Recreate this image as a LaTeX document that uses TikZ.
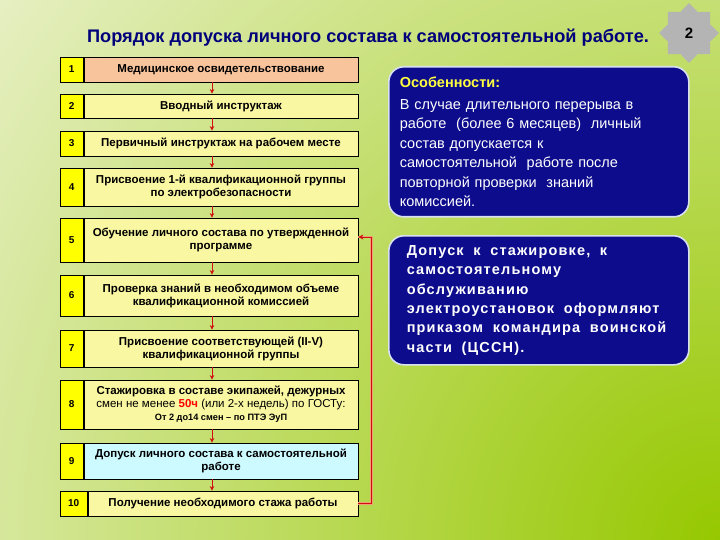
\documentclass[tikz,border=0pt]{standalone}
\usepackage{fontspec}
\setmainfont{Liberation Sans}
\usetikzlibrary{shapes.geometric,arrows.meta,calc}
\definecolor{bgLight}{HTML}{E6EFC2}
\definecolor{bgGreen}{HTML}{96C800}
\definecolor{titleBlue}{HTML}{00007A}
\definecolor{stepFill}{HTML}{FAF7A2}
\definecolor{peach}{HTML}{F8C49C}
\definecolor{cyanFill}{HTML}{CCFAFF}
\definecolor{numYellow}{HTML}{FFFF00}
\definecolor{arrowRed}{HTML}{D01010}
\definecolor{glow}{HTML}{F0A070}
\definecolor{navyBox}{HTML}{0C0C8C}
\definecolor{boxEdge}{HTML}{D8E0F0}
\definecolor{headYellow}{HTML}{FFFF40}
\definecolor{starGray}{HTML}{B4B4B4}
\begin{document}
\begin{tikzpicture}[x=1pt,y=-1pt,
  stepbox/.style={draw=black, line width=0.8pt, fill=stepFill, minimum width=274pt,
    inner sep=1pt, align=center,
    font=\fontsize{11.5}{13}\selectfont\bfseries},
  numbox/.style={draw=black, line width=0.8pt, fill=numYellow, minimum width=23pt,
    inner sep=0pt, anchor=east, font=\fontsize{10}{11}\selectfont\bfseries},
  arr/.style={draw=arrowRed, line width=0.8pt, -{Stealth[length=4.5pt,width=4.5pt]}},
  fb/.style={draw=arrowRed, line width=1pt, -{Stealth[length=5pt,width=5pt]},
    preaction={draw=glow, line width=2.6pt, -}},
  infobox/.style={draw=boxEdge, line width=1.6pt, fill=navyBox, rounded corners=15pt,
    minimum width=300pt, text=white, align=left, anchor=north west}
]
\useasboundingbox (0,0) rectangle (720,540);
% background
\fill[bgLight] (0,0) rectangle (720,540);
\begin{scope}
  \clip (0,0) rectangle (720,540);
  \shade[inner color=bgGreen, outer color=bgLight] (720,540) circle (900);
\end{scope}

% title
\node[font=\fontsize{18.2}{20}\selectfont\bfseries, text=titleBlue] (title) at (368,38)
  {Порядок допуска личного состава к самостоятельной работе.};

% star
\node[star, star points=8, star point ratio=1.32, minimum size=60pt, inner sep=0pt,
  fill=starGray, font=\fontsize{15}{17}\selectfont\bfseries] (star) at (689,33) {2};

% steps
\node[stepbox, fill=peach, minimum height=25pt] (b1) at (221,69.5) {Медицинское освидетельствование};
\node[stepbox, minimum height=24pt] (b2) at (221,106) {Вводный инструктаж};
\node[stepbox, minimum height=25pt] (b3) at (221,143.5) {Первичный инструктаж на рабочем месте};
\node[stepbox, minimum height=38pt] (b4) at (221,187) {Присвоение 1-й квалификационной группы\\ по электробезопасности};
\node[stepbox, minimum height=44pt] (b5) at (221,240) {Обучение личного состава по утвержденной\\ программе};
\node[stepbox, minimum height=41pt] (b6) at (221,295.5) {Проверка знаний в необходимом объеме\\ квалификационной комиссией};
\node[stepbox, minimum height=37pt] (b7) at (221,348.5) {Присвоение соответствующей (II-V)\\ квалификационной группы};
\node[stepbox, minimum height=49pt] (b8) at (221,404.5) {Стажировка в составе экипажей, дежурных\\
  {\mdseries смен не менее {\color{red}\bfseries 50ч} (или 2-х недель) по ГОСТу:}\\
  {\fontsize{9.2}{11}\selectfont От 2 до14 смен – по ПТЭ ЭуП}};
\node[stepbox, fill=cyanFill, minimum height=36pt] (b9) at (221,461) {Допуск личного состава к самостоятельной\\ работе};
\node[stepbox, minimum height=25pt, minimum width=270pt] (b10) at (223,503.5) {Получение необходимого стажа работы};

\node[numbox, minimum height=25pt] (n1) at (b1.west) {1};
\node[numbox, minimum height=24pt] (n2) at (b2.west) {2};
\node[numbox, minimum height=25pt] (n3) at (b3.west) {3};
\node[numbox, minimum height=38pt] (n4) at (b4.west) {4};
\node[numbox, minimum height=44pt] (n5) at (b5.west) {5};
\node[numbox, minimum height=41pt] (n6) at (b6.west) {6};
\node[numbox, minimum height=37pt] (n7) at (b7.west) {7};
\node[numbox, minimum height=49pt] (n8) at (b8.west) {8};
\node[numbox, minimum height=36pt] (n9) at (b9.west) {9};
\node[numbox, minimum height=25pt, minimum width=27pt] (n10) at (b10.west) {10};

% arrows
\coordinate (ax) at (212,0);
\foreach \a/\b in {b1/b2,b2/b3,b3/b4,b4/b5,b5/b6,b6/b7,b7/b8,b8/b9,b9/b10}
  \draw[arr] (\a.south -| ax) -- (\b.north -| ax);

% feedback loop
\draw[fb] (b10.east) -- ++(13,0) |- ([yshift=3pt]b5.east);

% info boxes
\node[infobox, minimum height=150pt, inner xsep=11pt, inner ysep=6pt, text width=278pt,
  font=\fontsize{14.5}{19.5}\selectfont] (infoA) at (388,66)
  {{\bfseries\color{headYellow}Особенности:}\\[2pt]
   В случае длительного перерыва в\\
   работе~~(более 6 месяцев)~~личный\\
   состав допускается к\\
   самостоятельной~~работе после\\
   повторной проверки~~знаний\\
   комиссией.};
\node[infobox, minimum height=129pt, inner xsep=18pt, inner ysep=8pt, text width=264pt,
  font=\fontsize{14.5}{19.3}\selectfont\bfseries\addfontfeature{LetterSpace=8}] (infoB) at (388,235)
  {Допуск~~к~~стажировке,~~к\\
   самостоятельному\\
   обслуживанию\\
   электроустановок~~оформляют\\
   приказом~~командира~~воинской\\
   части~~(ЦССН).};
\end{tikzpicture}
\end{document}
